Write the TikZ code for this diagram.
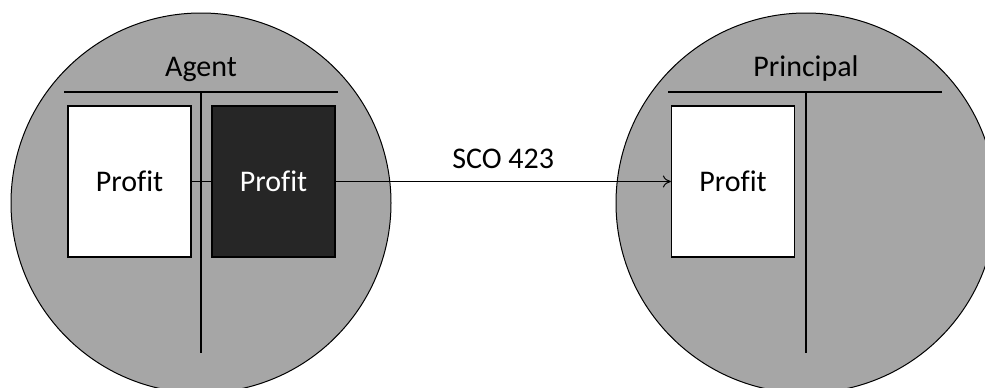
\documentclass[tikz,border=0pt]{standalone}
\usepackage{fontspec}
\setmainfont[Ligatures=NoCommon]{Carlito}
\usetikzlibrary{arrows.meta}

\definecolor{partygray}{HTML}{A6A6A6}
\definecolor{darkacct}{HTML}{262626}

\def \partyradius {190pt}
\def \labelsize {\fontsize{30}{36}\selectfont}

\begin{document}
\begin{tikzpicture}[x=1pt, y=-1pt,
    party/.style={draw=black, fill=partygray, line width=1pt},
    ledger/.style={line width=1.6pt},
    account/.style={draw, line width=1.2pt, minimum width=123pt, minimum height=151pt, inner sep=0pt, font=\labelsize},
    title/.style={anchor=base, font=\labelsize},
    >={To[length=8pt, width=12pt]}]
\useasboundingbox (0,0) rectangle (985,388);
\clip (0,0) rectangle (985,388);

% the two parties
\draw[party] (201,203) circle [radius=\partyradius];
\draw[party] (806,203) circle [radius=\partyradius];

% T-accounts
\node[title] (agent) at (201,76) {Agent};
\draw[ledger] (64,92) -- (338,92);
\draw[ledger] (201,92) -- (201,353);
\node[title] (principal) at (806,76) {Principal};
\draw[ledger] (668,92) -- (942,92);
\draw[ledger] (806,92) -- (806,353);

% profit entries
\node[account, fill=white] (agentleft) at (129.5,181.5) {Profit};
\node[account, fill=darkacct, text=white] (agentright) at (273.5,181.5) {Profit};
\node[account, fill=white] (principalleft) at (733,181.5) {Profit};

\draw[line width=1pt] (agentleft) -- (agentright);
\draw[line width=1pt, ->] (agentright) -- node[above=9pt, font=\labelsize] (transfer) {SCO 423} (principalleft);
\end{tikzpicture}
\end{document}
